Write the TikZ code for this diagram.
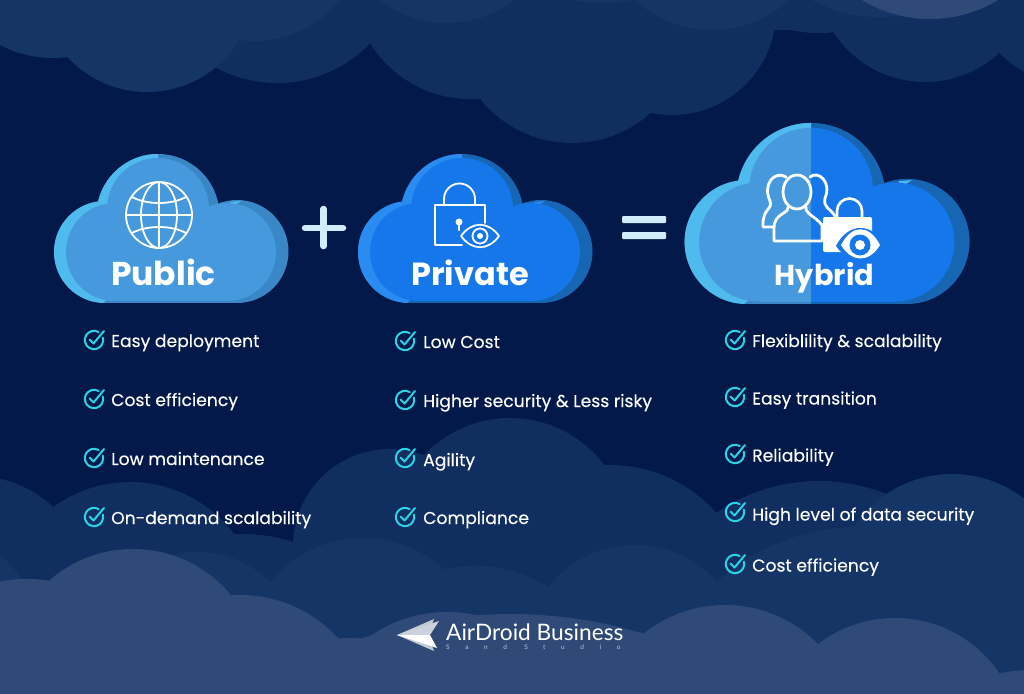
\documentclass[tikz,border=0pt]{standalone}
\usepackage{fontspec}
\setmainfont{Poppins}
\newfontfamily\itemfont[FakeBold=0.2]{Poppins}
\newfontfamily\logofont{Lato}
\newfontfamily\studiofont[LetterSpace=240]{Lato}
\usepackage{xcolor}
\usepackage{tikz}
\usetikzlibrary{calc,arrows.meta,positioning}

\definecolor{nightbg}{HTML}{02194A}
\definecolor{skymid}{HTML}{112E61}
\definecolor{skyhigh}{HTML}{163567}
\definecolor{skytop}{HTML}{2F4A76}
\definecolor{publight}{HTML}{4FBAEE}
\definecolor{pubface}{HTML}{4699DD}
\definecolor{pubdark}{HTML}{3A87C7}
\definecolor{privlight}{HTML}{2A8BF0}
\definecolor{privface}{HTML}{1577E9}
\definecolor{privdark}{HTML}{1766B3}
\definecolor{signcol}{HTML}{D3ECFB}
\definecolor{tickcol}{HTML}{2BD3E6}

% cloud made of three lobes, origin at the middle of its bottom edge
\newcommand{\cloudouter}[1]{%
  \fill[#1] (-53,-51) circle (51);
  \fill[#1] (0,-87.5) circle (61.5);
  \fill[#1] (79,-51.5) circle (51.5);
  \fill[#1] (-53,-51) rectangle (79,0);
}
\newcommand{\cloudinner}[1]{%
  \fill[#1] (-43,-51) circle (49);
  \fill[#1] (0,-94) circle (51);
  \fill[#1] (69,-51) circle (49);
  \fill[#1] (-43,-51) rectangle (69,-2);
}
\newcommand{\cloudbody}[3]{%
  \cloudouter{#3}
  \begin{scope}
    \clip (-110,-160) -- (0,-160) -- (0,-50) -- (-55,0) -- (-110,0) -- cycle;
    \cloudouter{#1}
  \end{scope}
  \fill[#1] (72,-101) -- (83,-102) -- (74,-96) -- cycle;
  \cloudinner{#2}
}

\tikzset{
  itemtext/.style={anchor=base west, text=white, inner sep=0pt, font=\itemfont\fontsize{17.2}{20}\selectfont},
  cloudtitle/.style={anchor=base, text=white, inner sep=0pt, font=\bfseries\fontsize{#1}{#1}\selectfont},
  iconline/.style={draw=white, line width=1.8pt, line cap=round, line join=round},
  peopleline/.style={iconline, line width=2.8pt},
  checkpic/.pic={
    \draw[tickcol, line width=2pt, line cap=round] (-60:9.2) arc[start angle=-60, end angle=-375, radius=9.2];
    \draw[tickcol, line width=2pt, line cap=round, line join=round] (-4.5,-0.5) -- (-0.5,3.5) -- (10,-9);
  }
}

\begin{document}
\begin{tikzpicture}[x=1pt, y=-1pt]

\useasboundingbox (0,0) rectangle (1024,693);
\clip (0,0) rectangle (1024,693);
\fill[nightbg] (0,0) rectangle (1024,693);

% Sky: top clouds, back row
\fill[skymid] (200,0) rectangle (1024,30);
\fill[skymid] (277,-46) circle (129);
\fill[skymid] (470,-18) circle (117);
\fill[skymid] (572,25) circle (118);
\fill[skymid] (672,11) circle (104);
\fill[skymid] (819,-109) circle (142);
\fill[skymid] (925,-27) circle (109);
\fill[skymid] (1075,-20) circle (105);

% Sky: top clouds, front row
\fill[skyhigh] (53,-56) circle (114);
\fill[skyhigh] (147,-16) circle (108);
\fill[skyhigh] (253,-72) circle (113);
\fill[skyhigh] (447,-86) circle (109);
\fill[skyhigh] (602,-147) circle (150);
\fill[skyhigh] (712,-84) circle (114);
\fill[skyhigh] (879,-123) circle (140);
\fill[skytop] (930,-112) circle (131);

% Sky: bottom clouds, back row
\fill[skymid] (-25,590) circle (114);
\fill[skymid] (130,612) circle (130);
\fill[skymid] (243,694) circle (160);
\fill[skymid] (390,546) circle (97);
\fill[skymid] (510,536) circle (118);
\fill[skymid] (610,607) circle (142);
\fill[skymid] (819,661) circle (180);

% Sky: bottom clouds, middle row
\fill[skyhigh] (-60,630) circle (96);
\fill[skyhigh] (197,656) circle (104);
\fill[skyhigh] (363,658) circle (120);
\fill[skyhigh] (475,701) circle (135);
\fill[skyhigh] (635,655) circle (110);
\fill[skyhigh] (860,742) circle (215);
\fill[skyhigh] (952,592) circle (118);
\fill[skyhigh] (700,590) rectangle (1024,693);

% Sky: bottom clouds, front row
\fill[skytop] (27,729) circle (150);
\fill[skytop] (133,676) circle (127);
\fill[skytop] (240,728) circle (133);
\fill[skytop] (350,738) circle (100);
\fill[skytop] (447,746) circle (134);
\fill[skytop] (510,1073) circle (459);
\fill[skytop] (725,735) circle (130);
\fill[skytop] (895,744) circle (126);
\fill[skytop] (1030,800) circle (130);
\fill[skytop] (0,675) rectangle (1024,693);

% Public cloud
\begin{scope}[shift={(158,303)}]
  \cloudbody{publight}{pubface}{pubdark}
\end{scope}

% Private cloud
\begin{scope}[shift={(462,303)}]
  \cloudbody{privlight}{privface}{privdark}
\end{scope}

% Hybrid cloud: two halves
\begin{scope}[shift={(811,304)}, scale=1.215]
  \begin{scope}
    \clip (-110,-160) rectangle (0,5);
    \cloudbody{publight}{pubface}{pubdark}
  \end{scope}
  \begin{scope}
    \clip (0,-160) rectangle (140,5);
    \cloudbody{publight}{privface}{privdark}
  \end{scope}
\end{scope}

% Globe icon
\begin{scope}[shift={(159,215)}]
  \draw[iconline] (0,0) circle (33);
  \draw[iconline] (0,0) ellipse (18 and 33);
  \draw[iconline] (-33,0) -- (33,0);
  \draw[iconline] (0,-33) -- (0,33);
  \draw[iconline] (-27,-18) .. controls (-12,-10) and (12,-10) .. (27,-18);
  \draw[iconline] (-27,18) .. controls (-12,10) and (12,10) .. (27,18);
\end{scope}

% Lock and eye icon
\draw[iconline] (485,223) -- (485,205) -- (435,205) -- (435,245) -- (462,245);
\draw[iconline] (444,205) -- (444,199) arc[start angle=180, end angle=360, radius=15.5] -- (475,205);
\fill[white] (459,222) circle (3.5);
\draw[iconline, line width=2.6pt] (459,224) -- (459,230);
\draw[iconline] (461,236) .. controls (472,221) and (488,221) .. (499,236) .. controls (488,251) and (472,251) .. cycle;
\draw[iconline] (480,236) circle (7.5);
\fill[white] (480,236) circle (3);

% People icon
\draw[peopleline] (797,192) ellipse (14 and 17);
\draw[peopleline] (788,207) .. controls (789,214) and (774,213) .. (774,228) -- (774,241) -- (822,241) -- (822,225);
\draw[peopleline] (806,207) .. controls (805,214) and (815,216) .. (822,225);
\draw[peopleline] (786,177) .. controls (775,170) and (762,184) .. (770,201) .. controls (773,210) and (762,208) .. (763,227) -- (774,227);
\draw[peopleline] (810,177) .. controls (818,170) and (832,182) .. (825,198) .. controls (823,208) and (830,208) .. (835,216);

% Lock and eye on the people icon
\fill[white, rounded corners=2pt] (823,217) rectangle (872,252);
\draw[iconline, line width=2.6pt] (837,218) -- (837,211) arc[start angle=180, end angle=360, radius=12.5] -- (862,218);
\fill[privface] (836,246) .. controls (848,222) and (873,222) .. (885,246) .. controls (873,264) and (848,264) .. cycle;
\fill[white] (841,245) .. controls (852,224) and (869,224) .. (880,245) .. controls (869,263) and (852,263) .. cycle;
\fill[privface] (860,245) circle (10.5);
\fill[white] (860,245) circle (5);

% Cloud titles
\node[cloudtitle=33] (publictitle) at (163.5,285) {Public};
\node[cloudtitle=32] (privatetitle) at (470,285.5) {Private};
\node[cloudtitle=28.8] (hybridtitle) at (824.5,285) {Hybrid};

% Plus and equals signs
\draw[signcol, line width=6.5pt, line cap=round] (323.5,209) -- (323.5,246);
\draw[signcol, line width=6.5pt, line cap=round] (305,228) -- (343,228);
\fill[signcol, rounded corners=1pt] (622,216) rectangle (666,223);
\fill[signcol, rounded corners=1pt] (622,232) rectangle (666,239);

% Public list
\pic at (94,340) {checkpic};
\node[itemtext] (pubeasy) at (111,347) {Easy deployment};
\pic at (94,399) {checkpic};
\node[itemtext] (pubcost) at (111,406) {Cost efficiency};
\pic at (94,458) {checkpic};
\node[itemtext] (pubmaint) at (111,465) {Low maintenance};
\pic at (94,517) {checkpic};
\node[itemtext] (pubscale) at (111,524) {On-demand scalability};

% Private list
\pic at (405,341) {checkpic};
\node[itemtext] (privcost) at (423,348) {Low Cost};
\pic at (405,400) {checkpic};
\node[itemtext] (privsafe) at (423,407) {Higher security \& Less risky};
\pic at (405,458) {checkpic};
\node[itemtext] (privagile) at (423,466) {Agility};
\pic at (405,517) {checkpic};
\node[itemtext] (privcomply) at (423,524) {Compliance};

% Hybrid list
\pic at (735,340) {checkpic};
\node[itemtext] (hybflex) at (752,347) {Flexiblility \& scalability};
\pic at (735,397) {checkpic};
\node[itemtext] (hybmove) at (752,404.5) {Easy transition};
\pic at (735,454) {checkpic};
\node[itemtext] (hybrely) at (752,461.5) {Reliability};
\pic at (735,512) {checkpic};
\node[itemtext] (hybdata) at (752,520.5) {High level of data security};
\pic at (735,564) {checkpic};
\node[itemtext] (hybcost) at (752,571.5) {Cost efficiency};

% Logo
\fill[white!70!skytop] (397,635) -- (434,619) -- (428,635) -- (434,651) -- cycle;
\fill[white!75!skytop] (397,635) -- (439,621) -- (430,635) -- cycle;
\fill[white] (397,635) -- (430,635) -- (437,648) -- cycle;
\node[anchor=west, text=white, inner sep=0pt, font=\logofont\fontsize{22.7}{24}\selectfont] (logoname) at (446,632) {AirDroid Business};
\node[anchor=west, text=white!70!skytop, inner sep=0pt, font=\studiofont\fontsize{6.5}{7}\selectfont] (logostudio) at (446,647.5) {Sand Studio};

\end{tikzpicture}
\end{document}
